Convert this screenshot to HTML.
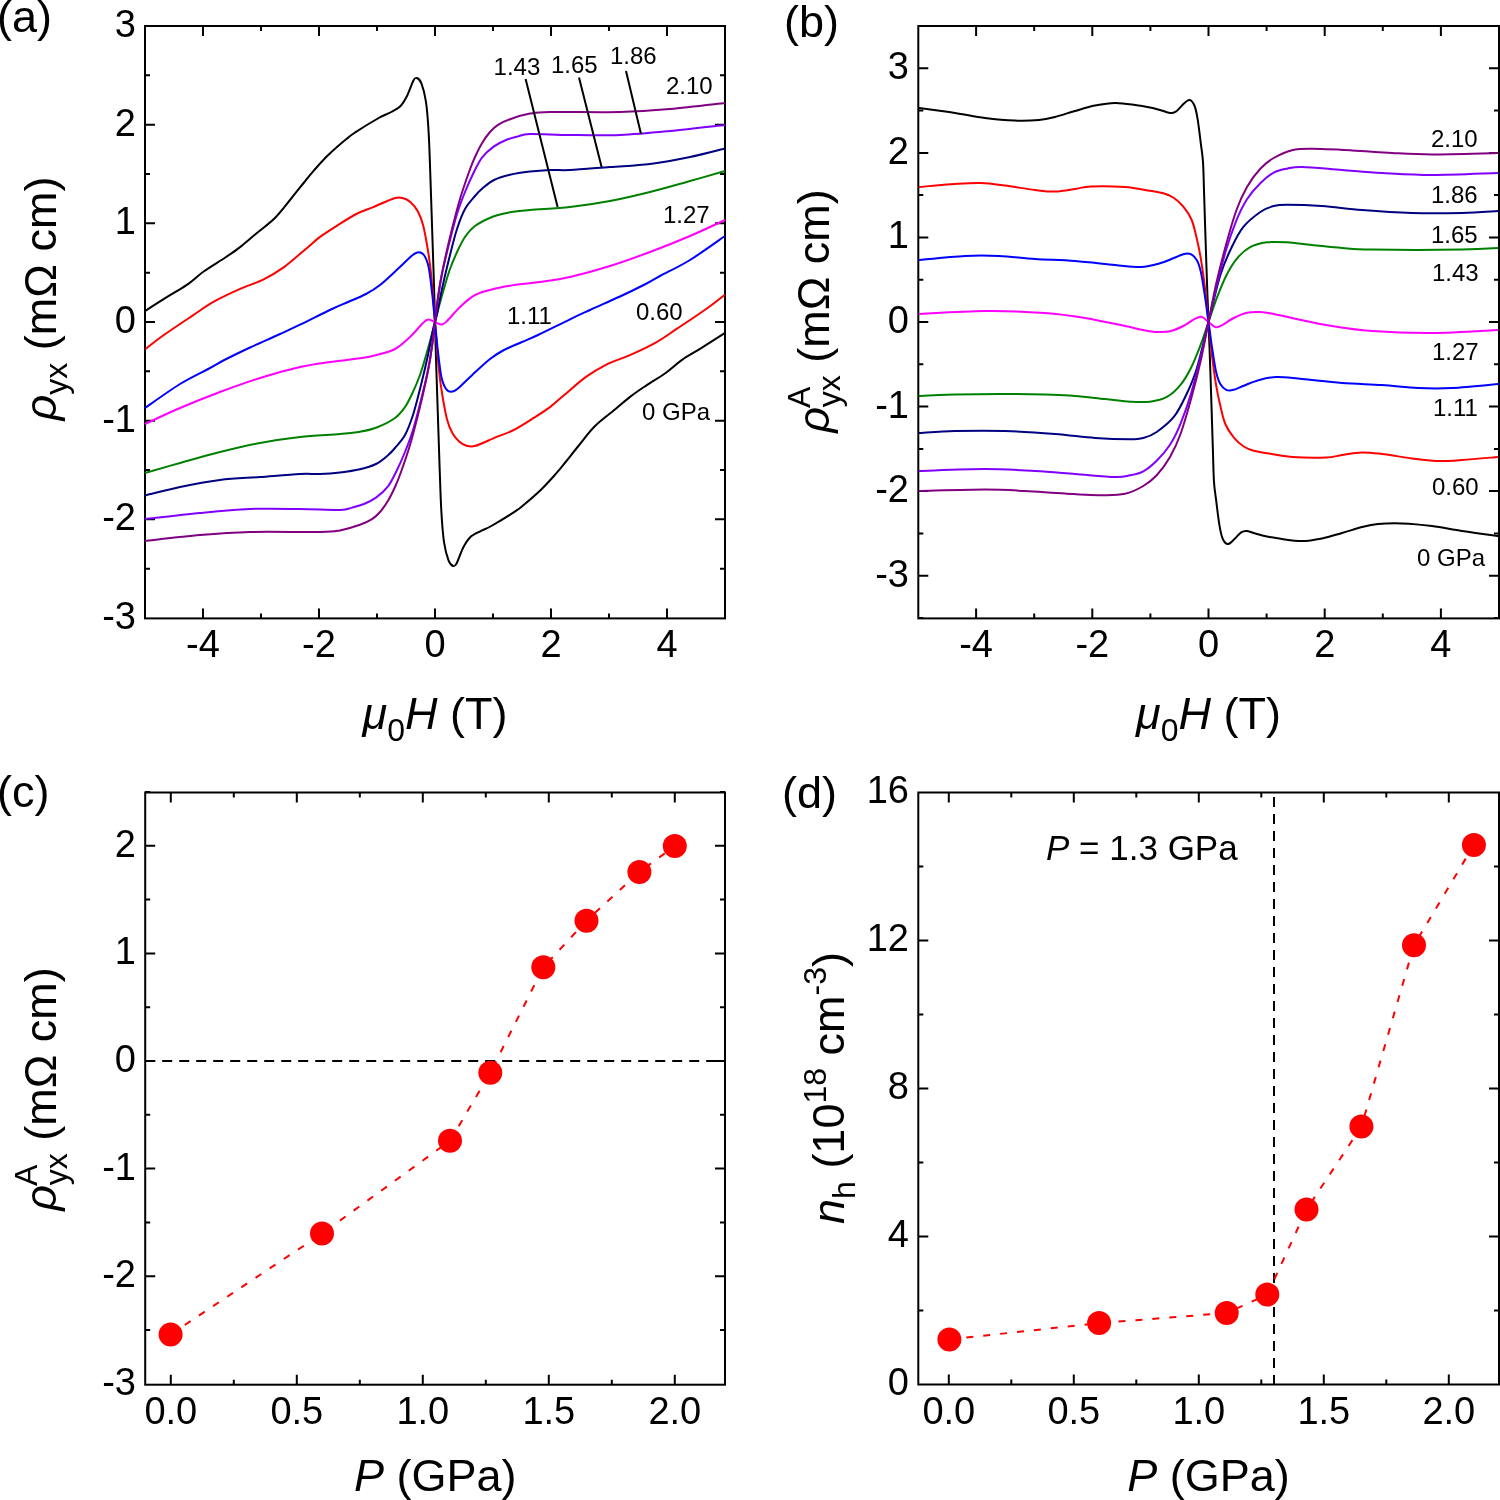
<!DOCTYPE html>
<html><head><meta charset="utf-8"><style>
html,body{margin:0;padding:0;background:#fff;width:1500px;height:1500px;overflow:hidden}
svg{display:block;font-family:"Liberation Sans", sans-serif;will-change:transform}
</style></head><body>
<svg width="1500" height="1500" viewBox="0 0 1500 1500">
<rect width="1500" height="1500" fill="#fff"/>
<rect x="145.0" y="26.0" width="580.0" height="592.4" fill="none" stroke="#000" stroke-width="2"/>
<path d="M203.0 618.4V608.4M203.0 26.0V36.0M319.0 618.4V608.4M319.0 26.0V36.0M435.0 618.4V608.4M435.0 26.0V36.0M551.0 618.4V608.4M551.0 26.0V36.0M667.0 618.4V608.4M667.0 26.0V36.0M261.0 618.4V613.4M261.0 26.0V31.0M377.0 618.4V613.4M377.0 26.0V31.0M493.0 618.4V613.4M493.0 26.0V31.0M609.0 618.4V613.4M609.0 26.0V31.0M145.0 519.3H155.0M725.0 519.3H715.0M145.0 420.7H155.0M725.0 420.7H715.0M145.0 322.0H155.0M725.0 322.0H715.0M145.0 223.3H155.0M725.0 223.3H715.0M145.0 124.7H155.0M725.0 124.7H715.0M145.0 568.7H150.0M725.0 568.7H720.0M145.0 470.0H150.0M725.0 470.0H720.0M145.0 371.3H150.0M725.0 371.3H720.0M145.0 272.7H150.0M725.0 272.7H720.0M145.0 174.0H150.0M725.0 174.0H720.0M145.0 75.3H150.0M725.0 75.3H720.0" stroke="#000" stroke-width="2" fill="none"/>
<path d="M145.3 310.8 C149.2 308.3 161.7 300.3 168.8 295.9 C175.9 291.4 182.1 288.2 188.0 284.1 C193.9 280.0 197.8 275.7 204.0 271.3 C210.2 266.9 219.3 261.5 225.3 257.5 C231.3 253.5 234.9 251.1 240.0 247.1 C245.1 243.1 250.1 238.6 256.0 233.7 C261.9 228.8 269.3 223.6 275.2 217.7 C281.1 211.8 286.4 204.4 291.2 198.5 C296.0 192.6 300.3 187.1 304.0 182.5 C307.7 177.9 309.5 175.4 313.6 170.8 C317.7 166.2 323.0 160.1 328.5 154.8 C334.0 149.5 342.2 142.5 346.7 138.8 C351.1 135.1 349.9 135.9 355.2 132.4 C360.5 128.9 373.1 121.2 378.7 118.0 C384.3 114.8 385.5 115.0 389.0 113.1 C392.5 111.2 396.8 109.6 399.8 106.8 C402.8 104.0 404.8 100.3 407.0 96.0 C409.2 91.7 411.7 83.7 413.3 80.7 C414.9 77.7 415.5 77.5 416.9 78.0 C418.2 78.5 419.9 79.5 421.4 83.4 C422.9 87.3 424.7 93.3 425.9 101.4 C427.1 109.5 427.9 119.4 428.6 132.0 C429.4 144.6 429.8 160.5 430.4 177.0 C431.0 193.5 431.6 213.0 432.2 231.0 C432.8 249.0 433.5 269.8 434.0 285.0 C434.5 300.2 434.7 309.7 435.0 322.0 C435.3 334.3 435.5 343.8 436.0 359.0 C436.5 374.2 437.2 395.0 437.8 413.0 C438.4 431.0 439.0 450.5 439.6 467.0 C440.2 483.5 440.6 499.4 441.4 512.0 C442.1 524.6 442.9 534.5 444.1 542.6 C445.3 550.7 447.1 556.7 448.6 560.6 C450.1 564.5 451.8 565.5 453.1 566.0 C454.5 566.5 455.1 566.3 456.7 563.3 C458.3 560.3 460.8 552.4 463.0 548.0 C465.2 543.6 467.2 540.1 470.2 537.2 C473.2 534.4 477.5 532.8 481.0 530.9 C484.5 529.0 485.7 529.2 491.3 526.0 C496.9 522.8 509.5 515.1 514.8 511.6 C520.1 508.1 518.8 508.9 523.3 505.2 C527.8 501.5 536.0 494.5 541.5 489.2 C547.0 483.9 552.3 477.8 556.4 473.2 C560.5 468.6 562.3 466.1 566.0 461.5 C569.7 456.9 574.0 451.4 578.8 445.5 C583.6 439.6 588.9 432.2 594.8 426.3 C600.7 420.4 608.1 415.2 614.0 410.3 C619.9 405.4 624.9 400.9 630.0 396.9 C635.1 392.9 638.7 390.5 644.7 386.5 C650.7 382.5 659.8 377.1 666.0 372.7 C672.2 368.3 676.1 364.0 682.0 359.9 C687.9 355.8 694.1 352.6 701.2 348.1 C708.3 343.7 720.8 335.7 724.7 333.2" stroke="#000000" stroke-width="2" fill="none" stroke-linejoin="round"/>
<path d="M145.3 349.2 C148.3 346.9 155.5 341.0 163.5 335.3 C171.5 329.6 184.8 320.8 193.3 315.1 C201.8 309.4 206.7 305.6 214.7 301.2 C222.7 296.8 233.3 291.9 241.3 288.4 C249.3 284.8 255.6 283.4 262.7 279.9 C269.8 276.3 276.8 272.3 284.0 267.1 C291.2 261.9 300.1 253.7 306.1 248.7 C312.1 243.7 315.0 240.6 320.0 236.9 C325.0 233.2 329.9 230.1 336.0 226.3 C342.1 222.5 350.1 217.2 356.3 214.0 C362.5 210.8 367.0 209.7 373.3 207.1 C379.6 204.5 389.4 199.7 394.4 198.2 C399.4 196.7 400.7 197.5 403.4 198.2 C406.1 198.9 408.2 200.0 410.6 202.2 C413.0 204.4 415.7 207.3 417.8 211.2 C419.9 215.1 421.6 219.3 423.2 225.6 C424.8 231.9 426.3 240.6 427.7 249.0 C429.1 257.4 430.1 263.8 431.3 276.0 C432.5 288.2 433.8 306.7 435.0 322.0 C436.2 337.3 437.5 355.8 438.7 368.0 C439.9 380.2 440.9 386.6 442.3 395.0 C443.7 403.4 445.2 412.1 446.8 418.4 C448.4 424.7 450.1 428.9 452.2 432.8 C454.3 436.7 457.0 439.6 459.4 441.8 C461.8 444.0 463.9 445.1 466.6 445.8 C469.3 446.5 470.6 447.3 475.6 445.8 C480.6 444.3 490.3 439.5 496.7 436.9 C503.1 434.3 507.5 433.2 513.7 430.0 C519.9 426.8 528.0 421.5 534.0 417.7 C540.0 413.9 545.0 410.8 550.0 407.1 C555.0 403.4 557.9 400.3 563.9 395.3 C569.9 390.3 578.8 382.1 586.0 376.9 C593.2 371.7 600.2 367.7 607.3 364.1 C614.4 360.6 620.7 359.2 628.7 355.6 C636.7 352.1 647.3 347.2 655.3 342.8 C663.3 338.4 668.2 334.6 676.7 328.9 C685.2 323.2 698.5 314.4 706.5 308.7 C714.5 303.0 721.7 297.1 724.7 294.8" stroke="#ff0000" stroke-width="2" fill="none" stroke-linejoin="round"/>
<path d="M145.0 408.0 C150.8 404.0 169.2 390.7 180.0 384.0 C190.8 377.3 202.6 372.0 210.0 368.0 C217.4 364.0 217.6 363.4 224.3 360.0 C231.0 356.6 240.7 351.8 250.0 347.5 C259.3 343.2 271.7 337.8 280.0 334.0 C288.3 330.2 291.3 328.9 300.0 324.7 C308.7 320.5 324.0 312.8 332.0 309.0 C340.0 305.2 342.3 304.5 348.0 302.0 C353.7 299.5 360.7 296.8 366.0 294.0 C371.3 291.2 374.7 289.2 380.0 285.0 C385.3 280.8 392.6 273.8 398.0 268.8 C403.4 263.9 408.9 258.1 412.4 255.3 C415.8 252.5 416.8 252.2 418.7 252.2 C420.6 252.2 422.5 252.8 424.1 255.3 C425.8 257.8 427.2 260.6 428.6 267.0 C430.0 273.4 431.1 284.8 432.2 294.0 C433.3 303.2 434.1 312.7 435.0 322.0 C435.9 331.3 436.7 340.8 437.8 350.0 C438.9 359.2 440.0 370.6 441.4 377.0 C442.8 383.4 444.2 386.2 445.9 388.7 C447.5 391.2 449.4 391.8 451.3 391.8 C453.2 391.8 454.2 391.5 457.6 388.7 C461.1 385.9 466.6 380.1 472.0 375.2 C477.4 370.2 484.7 363.2 490.0 359.0 C495.3 354.8 498.7 352.8 504.0 350.0 C509.3 347.2 516.3 344.5 522.0 342.0 C527.7 339.5 530.0 338.8 538.0 335.0 C546.0 331.2 561.3 323.5 570.0 319.3 C578.7 315.1 581.7 313.8 590.0 310.0 C598.3 306.2 610.7 300.8 620.0 296.5 C629.3 292.2 639.0 287.4 645.7 284.0 C652.4 280.6 652.6 280.0 660.0 276.0 C667.4 272.0 679.2 266.7 690.0 260.0 C700.8 253.3 719.2 240.0 725.0 236.0" stroke="#0000ff" stroke-width="2" fill="none" stroke-linejoin="round"/>
<path d="M145.0 424.0 C150.8 421.3 167.5 413.3 180.0 408.0 C192.5 402.7 206.7 397.0 220.0 392.0 C233.3 387.0 246.7 382.2 260.0 378.0 C273.3 373.8 288.3 369.7 300.0 367.0 C311.7 364.3 320.0 363.4 330.0 362.0 C340.0 360.6 352.2 359.5 360.0 358.3 C367.8 357.1 370.9 356.6 376.7 355.0 C382.5 353.4 389.4 352.0 395.0 349.0 C400.6 346.0 405.3 341.3 410.0 337.0 C414.7 332.7 419.9 325.9 423.0 323.0 C426.1 320.1 426.3 319.7 428.3 319.5 C430.3 319.3 432.8 321.2 435.0 322.0 C437.2 322.8 439.7 324.7 441.7 324.5 C443.7 324.3 443.9 323.9 447.0 321.0 C450.1 318.1 455.3 311.3 460.0 307.0 C464.7 302.7 469.4 298.0 475.0 295.0 C480.6 292.0 487.5 290.6 493.3 289.0 C499.1 287.4 502.2 286.9 510.0 285.7 C517.8 284.5 530.0 283.4 540.0 282.0 C550.0 280.6 558.3 279.7 570.0 277.0 C581.7 274.3 596.7 270.2 610.0 266.0 C623.3 261.8 636.7 257.0 650.0 252.0 C663.3 247.0 677.5 241.3 690.0 236.0 C702.5 230.7 719.2 222.7 725.0 220.0" stroke="#ff00ff" stroke-width="2" fill="none" stroke-linejoin="round"/>
<path d="M145.0 473.0 C150.8 471.3 167.5 466.5 180.0 463.0 C192.5 459.5 206.7 455.3 220.0 452.0 C233.3 448.7 246.7 445.5 260.0 443.0 C273.3 440.5 286.7 438.5 300.0 437.0 C313.3 435.5 330.0 434.9 340.0 434.0 C350.0 433.1 353.9 432.8 360.0 431.7 C366.1 430.6 370.9 429.8 376.7 427.5 C382.5 425.2 390.3 421.4 395.0 418.0 C399.7 414.6 402.2 411.0 405.0 407.0 C407.8 403.0 409.5 399.3 412.0 394.0 C414.5 388.7 417.5 382.0 420.0 375.0 C422.5 368.0 424.8 359.5 427.0 352.0 C429.2 344.5 431.7 335.0 433.0 330.0 C434.3 325.0 434.3 324.7 435.0 322.0 C435.7 319.3 435.7 319.0 437.0 314.0 C438.3 309.0 440.8 299.5 443.0 292.0 C445.2 284.5 447.5 276.0 450.0 269.0 C452.5 262.0 455.5 255.3 458.0 250.0 C460.5 244.7 462.2 241.0 465.0 237.0 C467.8 233.0 470.3 229.4 475.0 226.0 C479.7 222.6 487.5 218.8 493.3 216.5 C499.1 214.2 503.9 213.4 510.0 212.3 C516.1 211.2 520.0 210.9 530.0 210.0 C540.0 209.1 556.7 208.5 570.0 207.0 C583.3 205.5 596.7 203.5 610.0 201.0 C623.3 198.5 636.7 195.3 650.0 192.0 C663.3 188.7 677.5 184.5 690.0 181.0 C702.5 177.5 719.2 172.7 725.0 171.0" stroke="#008000" stroke-width="2" fill="none" stroke-linejoin="round"/>
<path d="M145.0 495.5 C150.8 494.1 167.5 489.6 180.0 487.0 C192.5 484.4 206.7 481.7 220.0 480.0 C233.3 478.3 246.7 478.0 260.0 477.0 C273.3 476.0 290.0 474.5 300.0 474.0 C310.0 473.5 313.3 474.3 320.0 474.0 C326.7 473.7 333.3 473.2 340.0 472.4 C346.7 471.6 354.0 470.6 360.0 469.2 C366.0 467.8 371.3 466.3 376.0 464.0 C380.7 461.7 384.8 457.9 388.0 455.2 C391.2 452.5 392.2 451.4 395.0 448.0 C397.8 444.6 402.0 440.5 405.0 435.0 C408.0 429.5 410.3 423.3 413.0 415.0 C415.7 406.7 418.5 395.0 421.0 385.0 C423.5 375.0 426.0 364.2 428.0 355.0 C430.0 345.8 431.8 335.5 433.0 330.0 C434.2 324.5 434.3 324.7 435.0 322.0 C435.7 319.3 435.8 319.5 437.0 314.0 C438.2 308.5 440.0 298.2 442.0 289.0 C444.0 279.8 446.5 269.0 449.0 259.0 C451.5 249.0 454.3 237.3 457.0 229.0 C459.7 220.7 462.0 214.5 465.0 209.0 C468.0 203.5 472.2 199.4 475.0 196.0 C477.8 192.6 478.8 191.5 482.0 188.8 C485.2 186.1 489.3 182.3 494.0 180.0 C498.7 177.7 504.0 176.2 510.0 174.8 C516.0 173.4 523.3 172.4 530.0 171.6 C536.7 170.8 543.3 170.3 550.0 170.0 C556.7 169.7 560.0 170.5 570.0 170.0 C580.0 169.5 596.7 168.0 610.0 167.0 C623.3 166.0 636.7 165.7 650.0 164.0 C663.3 162.3 677.5 159.6 690.0 157.0 C702.5 154.4 719.2 149.9 725.0 148.5" stroke="#000080" stroke-width="2" fill="none" stroke-linejoin="round"/>
<path d="M145.0 519.0 C154.2 518.0 182.5 514.7 200.0 513.0 C217.5 511.3 233.3 509.7 250.0 509.0 C266.7 508.3 285.0 508.8 300.0 509.0 C315.0 509.2 331.3 510.2 340.0 510.0 C348.7 509.8 348.0 508.6 352.0 507.6 C356.0 506.6 360.0 505.7 364.0 504.0 C368.0 502.3 372.0 500.5 376.0 497.6 C380.0 494.7 384.5 491.0 388.0 486.4 C391.5 481.8 394.2 475.7 397.0 470.0 C399.8 464.3 402.3 458.7 405.0 452.0 C407.7 445.3 410.3 438.7 413.0 430.0 C415.7 421.3 418.5 410.0 421.0 400.0 C423.5 390.0 426.0 380.0 428.0 370.0 C430.0 360.0 431.8 348.0 433.0 340.0 C434.2 332.0 434.3 328.0 435.0 322.0 C435.7 316.0 435.8 312.0 437.0 304.0 C438.2 296.0 440.0 284.0 442.0 274.0 C444.0 264.0 446.5 254.0 449.0 244.0 C451.5 234.0 454.3 222.7 457.0 214.0 C459.7 205.3 462.3 198.7 465.0 192.0 C467.7 185.3 470.2 179.7 473.0 174.0 C475.8 168.3 478.5 162.2 482.0 157.6 C485.5 153.0 490.0 149.3 494.0 146.4 C498.0 143.5 502.0 141.7 506.0 140.0 C510.0 138.3 514.0 137.4 518.0 136.4 C522.0 135.4 521.3 134.2 530.0 134.0 C538.7 133.8 555.0 134.8 570.0 135.0 C585.0 135.2 603.3 135.7 620.0 135.0 C636.7 134.3 652.5 132.7 670.0 131.0 C687.5 129.3 715.8 126.0 725.0 125.0" stroke="#8000ff" stroke-width="2" fill="none" stroke-linejoin="round"/>
<path d="M145.0 541.0 C154.2 540.0 182.5 536.5 200.0 535.0 C217.5 533.5 230.0 532.5 250.0 532.0 C270.0 531.5 305.0 532.3 320.0 532.0 C335.0 531.7 333.3 531.6 340.0 530.4 C346.7 529.2 354.7 526.7 360.0 524.8 C365.3 522.9 368.7 521.3 372.0 519.2 C375.3 517.1 377.3 515.1 380.0 512.0 C382.7 508.9 385.5 505.0 388.0 500.8 C390.5 496.6 392.8 491.8 395.0 487.0 C397.2 482.2 398.5 479.0 401.0 472.0 C403.5 465.0 407.2 454.5 410.0 445.0 C412.8 435.5 415.5 425.0 418.0 415.0 C420.5 405.0 423.0 394.2 425.0 385.0 C427.0 375.8 428.5 369.2 430.0 360.0 C431.5 350.8 433.2 336.3 434.0 330.0 C434.8 323.7 434.7 324.7 435.0 322.0 C435.3 319.3 435.2 320.3 436.0 314.0 C436.8 307.7 438.5 293.2 440.0 284.0 C441.5 274.8 443.0 268.2 445.0 259.0 C447.0 249.8 449.5 239.0 452.0 229.0 C454.5 219.0 457.2 208.5 460.0 199.0 C462.8 189.5 466.5 179.0 469.0 172.0 C471.5 165.0 472.8 161.8 475.0 157.0 C477.2 152.2 479.5 147.4 482.0 143.2 C484.5 139.0 487.3 135.1 490.0 132.0 C492.7 128.9 494.7 126.9 498.0 124.8 C501.3 122.7 504.7 121.1 510.0 119.2 C515.3 117.3 523.3 114.8 530.0 113.6 C536.7 112.4 535.0 112.3 550.0 112.0 C565.0 111.7 600.0 112.5 620.0 112.0 C640.0 111.5 652.5 110.5 670.0 109.0 C687.5 107.5 715.8 104.0 725.0 103.0" stroke="#800080" stroke-width="2" fill="none" stroke-linejoin="round"/>
<text x="136.0" y="36.9" font-size="38" text-anchor="end">3</text>
<text x="136.0" y="135.6" font-size="38" text-anchor="end">2</text>
<text x="136.0" y="234.2" font-size="38" text-anchor="end">1</text>
<text x="136.0" y="332.9" font-size="38" text-anchor="end">0</text>
<text x="136.0" y="431.6" font-size="38" text-anchor="end">-1</text>
<text x="136.0" y="530.2" font-size="38" text-anchor="end">-2</text>
<text x="136.0" y="628.9" font-size="38" text-anchor="end">-3</text>
<text x="203.0" y="657.0" font-size="38" text-anchor="middle">-4</text>
<text x="319.0" y="657.0" font-size="38" text-anchor="middle">-2</text>
<text x="435.0" y="657.0" font-size="38" text-anchor="middle">0</text>
<text x="551.0" y="657.0" font-size="38" text-anchor="middle">2</text>
<text x="667.0" y="657.0" font-size="38" text-anchor="middle">4</text>
<rect x="918.3" y="26.0" width="580.7" height="592.4" fill="none" stroke="#000" stroke-width="2"/>
<path d="M976.1 618.4V608.4M976.1 26.0V36.0M1092.3 618.4V608.4M1092.3 26.0V36.0M1208.5 618.4V608.4M1208.5 26.0V36.0M1324.7 618.4V608.4M1324.7 26.0V36.0M1440.9 618.4V608.4M1440.9 26.0V36.0M1034.2 618.4V613.4M1034.2 26.0V31.0M1150.4 618.4V613.4M1150.4 26.0V31.0M1266.6 618.4V613.4M1266.6 26.0V31.0M1382.8 618.4V613.4M1382.8 26.0V31.0M918.3 575.7H928.3M1499.0 575.7H1489.0M918.3 491.1H928.3M1499.0 491.1H1489.0M918.3 406.6H928.3M1499.0 406.6H1489.0M918.3 322.0H928.3M1499.0 322.0H1489.0M918.3 237.4H928.3M1499.0 237.4H1489.0M918.3 152.9H928.3M1499.0 152.9H1489.0M918.3 68.3H928.3M1499.0 68.3H1489.0M918.3 618.0H923.3M1499.0 618.0H1494.0M918.3 533.4H923.3M1499.0 533.4H1494.0M918.3 448.9H923.3M1499.0 448.9H1494.0M918.3 364.3H923.3M1499.0 364.3H1494.0M918.3 279.7H923.3M1499.0 279.7H1494.0M918.3 195.1H923.3M1499.0 195.1H1494.0M918.3 110.6H923.3M1499.0 110.6H1494.0" stroke="#000" stroke-width="2" fill="none"/>
<path d="M919.0 108.0 C925.0 108.8 944.0 111.3 955.0 113.0 C966.0 114.7 975.0 116.7 985.0 118.0 C995.0 119.3 1006.0 120.3 1015.0 120.6 C1024.0 120.9 1032.3 120.6 1039.0 120.0 C1045.7 119.4 1049.0 118.5 1055.0 117.0 C1061.0 115.5 1068.3 112.9 1075.0 111.0 C1081.7 109.1 1088.3 106.9 1095.0 105.6 C1101.7 104.3 1108.3 103.1 1115.0 103.0 C1121.7 102.9 1129.2 104.2 1135.0 105.0 C1140.8 105.8 1145.8 106.7 1150.0 107.5 C1154.2 108.3 1156.7 109.1 1160.0 110.0 C1163.3 110.9 1167.4 112.7 1170.0 113.0 C1172.6 113.3 1173.7 113.0 1175.8 111.7 C1177.9 110.4 1180.3 107.0 1182.5 105.0 C1184.7 103.0 1187.2 100.0 1189.2 100.0 C1191.2 100.0 1192.8 102.0 1194.2 105.0 C1195.6 108.0 1196.4 111.9 1197.5 118.3 C1198.6 124.7 1199.9 136.0 1200.8 143.3 C1201.7 150.6 1202.4 153.1 1203.0 162.0 C1203.6 170.9 1203.7 182.6 1204.2 196.7 C1204.7 210.8 1205.2 230.0 1205.8 246.7 C1206.3 263.4 1207.0 284.1 1207.5 296.7 C1208.0 309.2 1208.2 313.6 1208.5 322.0 C1208.8 330.4 1209.0 334.8 1209.5 347.3 C1210.0 359.9 1210.7 380.6 1211.2 397.3 C1211.8 414.0 1212.3 433.2 1212.8 447.3 C1213.3 461.4 1213.4 473.1 1214.0 482.0 C1214.6 490.9 1215.3 493.4 1216.2 500.7 C1217.1 508.0 1218.4 519.3 1219.5 525.7 C1220.6 532.1 1221.4 536.0 1222.8 539.0 C1224.2 542.0 1225.8 544.0 1227.8 544.0 C1229.8 544.0 1232.3 541.0 1234.5 539.0 C1236.7 537.0 1239.1 533.6 1241.2 532.3 C1243.3 531.0 1244.4 530.7 1247.0 531.0 C1249.6 531.3 1253.7 533.1 1257.0 534.0 C1260.3 534.9 1262.8 535.7 1267.0 536.5 C1271.2 537.3 1276.2 538.2 1282.0 539.0 C1287.8 539.8 1295.3 541.1 1302.0 541.0 C1308.7 540.9 1315.3 539.7 1322.0 538.4 C1328.7 537.1 1335.3 534.9 1342.0 533.0 C1348.7 531.1 1356.0 528.5 1362.0 527.0 C1368.0 525.5 1371.3 524.6 1378.0 524.0 C1384.7 523.4 1393.0 523.1 1402.0 523.4 C1411.0 523.7 1422.0 524.7 1432.0 526.0 C1442.0 527.3 1451.0 529.3 1462.0 531.0 C1473.0 532.7 1492.0 535.2 1498.0 536.0" stroke="#000000" stroke-width="2" fill="none" stroke-linejoin="round"/>
<path d="M919.0 187.0 C925.0 186.5 944.7 184.7 955.0 184.0 C965.3 183.3 972.7 182.7 981.0 183.0 C989.3 183.3 996.0 184.4 1005.0 185.6 C1014.0 186.8 1026.7 189.0 1035.0 190.0 C1043.3 191.0 1048.3 191.8 1055.0 191.6 C1061.7 191.4 1069.0 189.9 1075.0 189.0 C1081.0 188.1 1082.7 186.7 1091.0 186.4 C1099.3 186.1 1115.2 186.3 1125.0 187.0 C1134.8 187.7 1143.6 189.8 1150.0 190.8 C1156.4 191.9 1159.4 192.2 1163.3 193.3 C1167.2 194.4 1170.0 195.3 1173.3 197.5 C1176.6 199.7 1180.2 202.9 1183.3 206.7 C1186.4 210.4 1189.5 214.7 1191.7 220.0 C1193.9 225.3 1195.2 231.9 1196.7 238.3 C1198.2 244.7 1199.4 250.0 1200.8 258.3 C1202.2 266.6 1203.7 277.7 1205.0 288.3 C1206.3 298.9 1207.3 310.8 1208.5 322.0 C1209.7 333.2 1210.7 345.1 1212.0 355.7 C1213.3 366.3 1214.8 377.4 1216.2 385.7 C1217.6 394.0 1218.8 399.3 1220.3 405.7 C1221.8 412.1 1223.1 418.7 1225.3 424.0 C1227.5 429.3 1230.6 433.6 1233.7 437.3 C1236.8 441.1 1240.4 444.3 1243.7 446.5 C1247.0 448.7 1249.8 449.6 1253.7 450.7 C1257.6 451.8 1260.6 452.1 1267.0 453.2 C1273.4 454.2 1282.2 456.3 1292.0 457.0 C1301.8 457.7 1317.7 457.9 1326.0 457.6 C1334.3 457.3 1336.0 455.9 1342.0 455.0 C1348.0 454.1 1355.3 452.6 1362.0 452.4 C1368.7 452.2 1373.7 453.0 1382.0 454.0 C1390.3 455.0 1403.0 457.2 1412.0 458.4 C1421.0 459.6 1427.7 460.7 1436.0 461.0 C1444.3 461.3 1451.7 460.7 1462.0 460.0 C1472.3 459.3 1492.0 457.5 1498.0 457.0" stroke="#ff0000" stroke-width="2" fill="none" stroke-linejoin="round"/>
<path d="M919.0 260.0 C926.7 259.3 951.7 256.7 965.0 256.0 C978.3 255.3 987.3 255.5 999.0 256.0 C1010.7 256.5 1022.3 258.2 1035.0 259.0 C1047.7 259.8 1061.7 260.0 1075.0 261.0 C1088.3 262.0 1104.0 264.0 1115.0 265.0 C1126.0 266.0 1133.5 267.3 1141.0 267.0 C1148.5 266.7 1154.6 264.8 1160.0 263.3 C1165.4 261.9 1169.4 259.8 1173.3 258.3 C1177.2 256.8 1180.4 254.9 1183.3 254.2 C1186.2 253.5 1188.6 253.2 1190.8 254.2 C1193.0 255.2 1195.0 257.1 1196.7 260.0 C1198.4 262.9 1199.4 265.6 1200.8 271.7 C1202.2 277.8 1203.7 288.3 1205.0 296.7 C1206.3 305.1 1207.3 313.6 1208.5 322.0 C1209.7 330.4 1210.7 338.9 1212.0 347.3 C1213.3 355.7 1214.8 366.2 1216.2 372.3 C1217.6 378.4 1218.6 381.1 1220.3 384.0 C1222.0 386.9 1224.0 388.8 1226.2 389.8 C1228.4 390.8 1230.8 390.5 1233.7 389.8 C1236.6 389.1 1239.8 387.2 1243.7 385.7 C1247.6 384.2 1251.6 382.1 1257.0 380.7 C1262.4 379.2 1268.5 377.3 1276.0 377.0 C1283.5 376.7 1291.0 378.0 1302.0 379.0 C1313.0 380.0 1328.7 382.0 1342.0 383.0 C1355.3 384.0 1369.3 384.2 1382.0 385.0 C1394.7 385.8 1406.3 387.5 1418.0 388.0 C1429.7 388.5 1438.7 388.7 1452.0 388.0 C1465.3 387.3 1490.3 384.7 1498.0 384.0" stroke="#0000ff" stroke-width="2" fill="none" stroke-linejoin="round"/>
<path d="M919.0 314.0 C930.0 313.5 964.0 311.2 985.0 311.0 C1006.0 310.8 1028.3 311.8 1045.0 313.0 C1061.7 314.2 1071.7 315.8 1085.0 318.0 C1098.3 320.2 1115.3 324.0 1125.0 326.0 C1134.7 328.0 1138.0 329.0 1143.3 330.0 C1148.6 331.0 1152.2 331.8 1156.7 332.0 C1161.2 332.2 1165.6 332.3 1170.0 331.3 C1174.4 330.3 1179.3 328.0 1183.3 326.0 C1187.3 324.0 1191.0 320.9 1194.0 319.3 C1197.0 317.8 1198.9 316.2 1201.3 316.7 C1203.7 317.1 1206.1 320.2 1208.5 322.0 C1210.9 323.8 1213.3 326.9 1215.7 327.3 C1218.1 327.8 1220.0 326.2 1223.0 324.7 C1226.0 323.1 1229.7 320.0 1233.7 318.0 C1237.7 316.0 1242.6 313.7 1247.0 312.7 C1251.4 311.7 1255.8 311.8 1260.3 312.0 C1264.8 312.2 1268.4 313.0 1273.7 314.0 C1279.0 315.0 1282.3 316.0 1292.0 318.0 C1301.7 320.0 1318.7 323.8 1332.0 326.0 C1345.3 328.2 1355.3 329.8 1372.0 331.0 C1388.7 332.2 1411.0 333.2 1432.0 333.0 C1453.0 332.8 1487.0 330.5 1498.0 330.0" stroke="#ff00ff" stroke-width="2" fill="none" stroke-linejoin="round"/>
<path d="M919.0 396.0 C925.0 395.7 934.0 394.7 955.0 394.4 C976.0 394.1 1025.0 394.1 1045.0 394.4 C1065.0 394.7 1065.0 395.2 1075.0 396.0 C1085.0 396.8 1095.8 398.1 1105.0 399.0 C1114.2 399.9 1122.5 401.2 1130.0 401.7 C1137.5 402.1 1143.8 402.5 1150.0 401.7 C1156.2 400.9 1162.2 399.5 1167.3 396.7 C1172.4 393.9 1176.7 389.6 1180.7 384.7 C1184.7 379.8 1188.0 374.0 1191.3 367.3 C1194.6 360.6 1197.8 352.2 1200.7 344.7 C1203.6 337.1 1205.9 329.6 1208.5 322.0 C1211.1 314.4 1213.4 306.9 1216.3 299.3 C1219.2 291.8 1222.4 283.4 1225.7 276.7 C1229.0 270.0 1232.3 264.2 1236.3 259.3 C1240.3 254.4 1244.6 250.1 1249.7 247.3 C1254.8 244.5 1260.8 243.1 1267.0 242.3 C1273.2 241.5 1279.5 241.9 1287.0 242.3 C1294.5 242.8 1302.8 244.1 1312.0 245.0 C1321.2 245.9 1332.0 247.2 1342.0 248.0 C1352.0 248.8 1352.0 249.3 1372.0 249.6 C1392.0 249.9 1441.0 249.9 1462.0 249.6 C1483.0 249.3 1492.0 248.3 1498.0 248.0" stroke="#008000" stroke-width="2" fill="none" stroke-linejoin="round"/>
<path d="M919.0 433.0 C925.0 432.7 940.7 431.3 955.0 431.0 C969.3 430.7 988.3 430.5 1005.0 431.0 C1021.7 431.5 1040.0 432.8 1055.0 434.0 C1070.0 435.2 1082.5 437.1 1095.0 438.0 C1107.5 438.9 1122.0 439.3 1130.0 439.3 C1138.0 439.3 1138.8 439.2 1143.3 438.0 C1147.8 436.8 1151.6 435.6 1156.7 432.0 C1161.8 428.4 1169.1 422.8 1174.0 416.7 C1178.9 410.6 1182.2 403.3 1186.0 395.3 C1189.8 387.3 1193.0 380.9 1196.7 368.7 C1200.5 356.5 1204.6 337.6 1208.5 322.0 C1212.4 306.4 1216.5 287.5 1220.3 275.3 C1224.0 263.1 1227.2 256.7 1231.0 248.7 C1234.8 240.7 1238.1 233.4 1243.0 227.3 C1247.9 221.2 1255.2 215.6 1260.3 212.0 C1265.4 208.4 1269.2 207.2 1273.7 206.0 C1278.2 204.8 1279.0 204.7 1287.0 204.7 C1295.0 204.7 1309.5 205.1 1322.0 206.0 C1334.5 206.9 1347.0 208.8 1362.0 210.0 C1377.0 211.2 1395.3 212.5 1412.0 213.0 C1428.7 213.5 1447.7 213.3 1462.0 213.0 C1476.3 212.7 1492.0 211.3 1498.0 211.0" stroke="#000080" stroke-width="2" fill="none" stroke-linejoin="round"/>
<path d="M919.0 471.0 C930.0 470.7 965.7 469.0 985.0 469.0 C1004.3 469.0 1020.0 470.2 1035.0 471.0 C1050.0 471.8 1061.7 473.0 1075.0 474.0 C1088.3 475.0 1105.8 476.8 1115.0 477.0 C1124.2 477.2 1125.3 476.2 1130.0 475.3 C1134.7 474.4 1138.8 473.7 1143.3 471.3 C1147.8 468.9 1152.2 465.1 1156.7 460.7 C1161.2 456.3 1166.0 450.9 1170.0 444.7 C1174.0 438.5 1177.2 432.0 1180.7 423.3 C1184.2 414.6 1188.0 403.8 1191.3 392.7 C1194.6 381.6 1197.8 368.5 1200.7 356.7 C1203.6 344.9 1205.9 333.6 1208.5 322.0 C1211.1 310.4 1213.4 299.1 1216.3 287.3 C1219.2 275.5 1222.4 262.4 1225.7 251.3 C1229.0 240.2 1232.8 229.4 1236.3 220.7 C1239.8 212.0 1243.0 205.5 1247.0 199.3 C1251.0 193.1 1255.8 187.7 1260.3 183.3 C1264.8 178.9 1269.2 175.1 1273.7 172.7 C1278.2 170.3 1282.3 169.6 1287.0 168.7 C1291.7 167.8 1292.8 166.8 1302.0 167.0 C1311.2 167.2 1328.7 169.0 1342.0 170.0 C1355.3 171.0 1367.0 172.2 1382.0 173.0 C1397.0 173.8 1412.7 175.0 1432.0 175.0 C1451.3 175.0 1487.0 173.3 1498.0 173.0" stroke="#8000ff" stroke-width="2" fill="none" stroke-linejoin="round"/>
<path d="M919.0 491.0 C930.0 490.8 967.3 489.6 985.0 489.6 C1002.7 489.6 1011.7 490.3 1025.0 491.0 C1038.3 491.7 1051.7 492.9 1065.0 493.6 C1078.3 494.3 1095.0 495.2 1105.0 495.2 C1115.0 495.2 1118.6 495.3 1125.0 493.8 C1131.4 492.3 1138.0 489.1 1143.3 486.0 C1148.6 482.9 1152.2 480.1 1156.7 475.3 C1161.2 470.5 1166.0 464.0 1170.0 457.0 C1174.0 450.0 1177.2 443.3 1180.7 433.5 C1184.2 423.7 1188.0 410.1 1191.3 398.0 C1194.6 385.9 1197.8 373.4 1200.7 360.7 C1203.6 348.0 1205.9 334.9 1208.5 322.0 C1211.1 309.1 1213.4 296.0 1216.3 283.3 C1219.2 270.6 1222.4 258.1 1225.7 246.0 C1229.0 233.9 1232.8 220.3 1236.3 210.5 C1239.8 200.7 1243.0 194.0 1247.0 187.0 C1251.0 180.0 1255.8 173.5 1260.3 168.7 C1264.8 163.9 1268.4 161.1 1273.7 158.0 C1279.0 154.9 1285.6 151.7 1292.0 150.2 C1298.4 148.7 1302.0 148.8 1312.0 148.8 C1322.0 148.8 1338.7 149.7 1352.0 150.4 C1365.3 151.1 1378.7 152.3 1392.0 153.0 C1405.3 153.7 1414.3 154.4 1432.0 154.4 C1449.7 154.4 1487.0 153.2 1498.0 153.0" stroke="#800080" stroke-width="2" fill="none" stroke-linejoin="round"/>
<text x="909.0" y="79.2" font-size="38" text-anchor="end">3</text>
<text x="909.0" y="163.8" font-size="38" text-anchor="end">2</text>
<text x="909.0" y="248.3" font-size="38" text-anchor="end">1</text>
<text x="909.0" y="332.9" font-size="38" text-anchor="end">0</text>
<text x="909.0" y="417.5" font-size="38" text-anchor="end">-1</text>
<text x="909.0" y="502.0" font-size="38" text-anchor="end">-2</text>
<text x="909.0" y="586.6" font-size="38" text-anchor="end">-3</text>
<text x="976.1" y="657.0" font-size="38" text-anchor="middle">-4</text>
<text x="1092.3" y="657.0" font-size="38" text-anchor="middle">-2</text>
<text x="1208.5" y="657.0" font-size="38" text-anchor="middle">0</text>
<text x="1324.7" y="657.0" font-size="38" text-anchor="middle">2</text>
<text x="1440.9" y="657.0" font-size="38" text-anchor="middle">4</text>
<rect x="145.2" y="792.5" width="579.8" height="592.2" fill="none" stroke="#000" stroke-width="2"/>
<path d="M170.8 1384.7V1374.7M170.8 792.5V802.5M296.8 1384.7V1374.7M296.8 792.5V802.5M422.8 1384.7V1374.7M422.8 792.5V802.5M548.8 1384.7V1374.7M548.8 792.5V802.5M674.8 1384.7V1374.7M674.8 792.5V802.5M233.8 1384.7V1379.7M233.8 792.5V797.5M359.8 1384.7V1379.7M359.8 792.5V797.5M485.8 1384.7V1379.7M485.8 792.5V797.5M611.8 1384.7V1379.7M611.8 792.5V797.5M145.2 1276.2H155.2M725.0 1276.2H715.0M145.2 1168.6H155.2M725.0 1168.6H715.0M145.2 1061.0H155.2M725.0 1061.0H715.0M145.2 953.4H155.2M725.0 953.4H715.0M145.2 845.8H155.2M725.0 845.8H715.0M145.2 1330.0H150.2M725.0 1330.0H720.0M145.2 1222.4H150.2M725.0 1222.4H720.0M145.2 1114.8H150.2M725.0 1114.8H720.0M145.2 1007.2H150.2M725.0 1007.2H720.0M145.2 899.6H150.2M725.0 899.6H720.0M145.2 792.0H150.2M725.0 792.0H720.0" stroke="#000" stroke-width="2" fill="none"/>
<path d="M145.2 1061H725" stroke="#000" stroke-width="2" stroke-dasharray="10 7" fill="none"/>
<path d="M170.6 1334.4 L322.0 1233.6 L450.0 1140.8 L490.3 1072.7 L543.3 967.3 L586.5 920.7 L639.4 871.9 L674.8 846.1" stroke="#ff0000" stroke-width="2" stroke-dasharray="7 10" fill="none"/>
<circle cx="170.6" cy="1334.4" r="12" fill="#ff0000"/>
<circle cx="322.0" cy="1233.6" r="12" fill="#ff0000"/>
<circle cx="450.0" cy="1140.8" r="12" fill="#ff0000"/>
<circle cx="490.3" cy="1072.7" r="12" fill="#ff0000"/>
<circle cx="543.3" cy="967.3" r="12" fill="#ff0000"/>
<circle cx="586.5" cy="920.7" r="12" fill="#ff0000"/>
<circle cx="639.4" cy="871.9" r="12" fill="#ff0000"/>
<circle cx="674.8" cy="846.1" r="12" fill="#ff0000"/>
<text x="136.0" y="856.7" font-size="38" text-anchor="end">2</text>
<text x="136.0" y="964.3" font-size="38" text-anchor="end">1</text>
<text x="136.0" y="1071.9" font-size="38" text-anchor="end">0</text>
<text x="136.0" y="1179.5" font-size="38" text-anchor="end">-1</text>
<text x="136.0" y="1287.1" font-size="38" text-anchor="end">-2</text>
<text x="136.0" y="1394.7" font-size="38" text-anchor="end">-3</text>
<text x="170.8" y="1423.5" font-size="38" text-anchor="middle">0.0</text>
<text x="296.8" y="1423.5" font-size="38" text-anchor="middle">0.5</text>
<text x="422.8" y="1423.5" font-size="38" text-anchor="middle">1.0</text>
<text x="548.8" y="1423.5" font-size="38" text-anchor="middle">1.5</text>
<text x="674.8" y="1423.5" font-size="38" text-anchor="middle">2.0</text>
<rect x="918.3" y="792.5" width="580.7" height="592.0" fill="none" stroke="#000" stroke-width="2"/>
<path d="M948.8 1384.5V1374.5M948.8 792.5V802.5M1073.8 1384.5V1374.5M1073.8 792.5V802.5M1198.8 1384.5V1374.5M1198.8 792.5V802.5M1323.8 1384.5V1374.5M1323.8 792.5V802.5M1448.8 1384.5V1374.5M1448.8 792.5V802.5M1011.3 1384.5V1379.5M1011.3 792.5V797.5M1136.3 1384.5V1379.5M1136.3 792.5V797.5M1261.3 1384.5V1379.5M1261.3 792.5V797.5M1386.3 1384.5V1379.5M1386.3 792.5V797.5M918.3 1236.5H928.3M1499.0 1236.5H1489.0M918.3 1088.5H928.3M1499.0 1088.5H1489.0M918.3 940.5H928.3M1499.0 940.5H1489.0M918.3 1310.5H923.3M1499.0 1310.5H1494.0M918.3 1162.5H923.3M1499.0 1162.5H1494.0M918.3 1014.5H923.3M1499.0 1014.5H1494.0M918.3 866.5H923.3M1499.0 866.5H1494.0" stroke="#000" stroke-width="2" fill="none"/>
<path d="M1274 797V1384" stroke="#000" stroke-width="2" stroke-dasharray="10 7" fill="none"/>
<path d="M949.4 1339.4 L1099.1 1323.1 L1226.7 1313.0 L1267.3 1294.6 L1306.5 1209.5 L1361.4 1126.6 L1414.0 945.2 L1473.9 844.9" stroke="#ff0000" stroke-width="2" stroke-dasharray="7 10" fill="none"/>
<circle cx="949.4" cy="1339.4" r="12" fill="#ff0000"/>
<circle cx="1099.1" cy="1323.1" r="12" fill="#ff0000"/>
<circle cx="1226.7" cy="1313.0" r="12" fill="#ff0000"/>
<circle cx="1267.3" cy="1294.6" r="12" fill="#ff0000"/>
<circle cx="1306.5" cy="1209.5" r="12" fill="#ff0000"/>
<circle cx="1361.4" cy="1126.6" r="12" fill="#ff0000"/>
<circle cx="1414.0" cy="945.2" r="12" fill="#ff0000"/>
<circle cx="1473.9" cy="844.9" r="12" fill="#ff0000"/>
<text x="909.0" y="803.4" font-size="38" text-anchor="end">16</text>
<text x="909.0" y="951.4" font-size="38" text-anchor="end">12</text>
<text x="909.0" y="1099.4" font-size="38" text-anchor="end">8</text>
<text x="909.0" y="1247.4" font-size="38" text-anchor="end">4</text>
<text x="909.0" y="1395.4" font-size="38" text-anchor="end">0</text>
<text x="948.8" y="1423.5" font-size="38" text-anchor="middle">0.0</text>
<text x="1073.8" y="1423.5" font-size="38" text-anchor="middle">0.5</text>
<text x="1198.8" y="1423.5" font-size="38" text-anchor="middle">1.0</text>
<text x="1323.8" y="1423.5" font-size="38" text-anchor="middle">1.5</text>
<text x="1448.8" y="1423.5" font-size="38" text-anchor="middle">2.0</text>
<text x="-3.0" y="32.0" font-size="45" text-anchor="start">(a)</text>
<text x="784.0" y="37.0" font-size="45" text-anchor="start">(b)</text>
<text x="-3.0" y="807.0" font-size="45" text-anchor="start">(c)</text>
<text x="782.0" y="808.3" font-size="45" text-anchor="start">(d)</text>
<text x="435.0" y="729.3" font-size="45" text-anchor="middle"><tspan font-style="italic">&#956;</tspan><tspan font-size="32" dy="12">0</tspan><tspan font-style="italic" dy="-12">H</tspan> (T)</text>
<text x="1208.5" y="729.3" font-size="45" text-anchor="middle"><tspan font-style="italic">&#956;</tspan><tspan font-size="32" dy="12">0</tspan><tspan font-style="italic" dy="-12">H</tspan> (T)</text>
<text x="435.3" y="1490.7" font-size="45" text-anchor="middle"><tspan font-style="italic">P</tspan> (GPa)</text>
<text x="1208.5" y="1490.7" font-size="45" text-anchor="middle"><tspan font-style="italic">P</tspan> (GPa)</text>
<text transform="translate(56 298.5) rotate(-90)" font-size="45" text-anchor="middle"><tspan font-style="italic">&#961;</tspan><tspan font-size="32" dy="11">yx</tspan><tspan dy="-11"> (m&#937; cm)</tspan></text>
<text transform="translate(829 311) rotate(-90)" font-size="45" text-anchor="middle"><tspan font-style="italic">&#961;</tspan><tspan font-size="32" dy="-19" dx="-1">A</tspan><tspan font-size="32" dy="30" dx="-20">yx</tspan><tspan dy="-11"> (m&#937; cm)</tspan></text>
<text transform="translate(56 1089) rotate(-90)" font-size="45" text-anchor="middle"><tspan font-style="italic">&#961;</tspan><tspan font-size="32" dy="-19" dx="-1">A</tspan><tspan font-size="32" dy="30" dx="-20">yx</tspan><tspan dy="-11"> (m&#937; cm)</tspan></text>
<text transform="translate(844 1088) rotate(-90)" font-size="45" text-anchor="middle"><tspan font-style="italic">n</tspan><tspan font-size="32" dy="11">h</tspan><tspan dy="-11"> (10</tspan><tspan font-size="32" dy="-18">18</tspan><tspan dy="18"> cm</tspan><tspan font-size="32" dy="-18">-3</tspan><tspan dy="18">)</tspan></text>
<text x="493.6" y="75.0" font-size="24" text-anchor="start">1.43</text>
<text x="551.0" y="73.0" font-size="24" text-anchor="start">1.65</text>
<text x="610.0" y="64.0" font-size="24" text-anchor="start">1.86</text>
<text x="666.0" y="94.0" font-size="24" text-anchor="start">2.10</text>
<text x="663.0" y="223.0" font-size="24" text-anchor="start">1.27</text>
<text x="507.0" y="324.0" font-size="24" text-anchor="start">1.11</text>
<text x="636.0" y="320.0" font-size="24" text-anchor="start">0.60</text>
<text x="642.0" y="420.0" font-size="24" text-anchor="start">0 GPa</text>
<path d="M525.6 79L557.6 207M579 77.6L601.6 167M626 71L641 134" stroke="#000" stroke-width="2" fill="none"/>
<text x="1431.0" y="147.0" font-size="24" text-anchor="start">2.10</text>
<text x="1431.0" y="203.0" font-size="24" text-anchor="start">1.86</text>
<text x="1431.0" y="243.0" font-size="24" text-anchor="start">1.65</text>
<text x="1432.0" y="281.0" font-size="24" text-anchor="start">1.43</text>
<text x="1432.0" y="360.0" font-size="24" text-anchor="start">1.27</text>
<text x="1433.0" y="416.0" font-size="24" text-anchor="start">1.11</text>
<text x="1432.0" y="495.0" font-size="24" text-anchor="start">0.60</text>
<text x="1417.0" y="566.0" font-size="24" text-anchor="start">0 GPa</text>
<text x="1046" y="859.6" font-size="35"><tspan font-style="italic">P</tspan> = 1.3 GPa</text>
</svg></body></html>
